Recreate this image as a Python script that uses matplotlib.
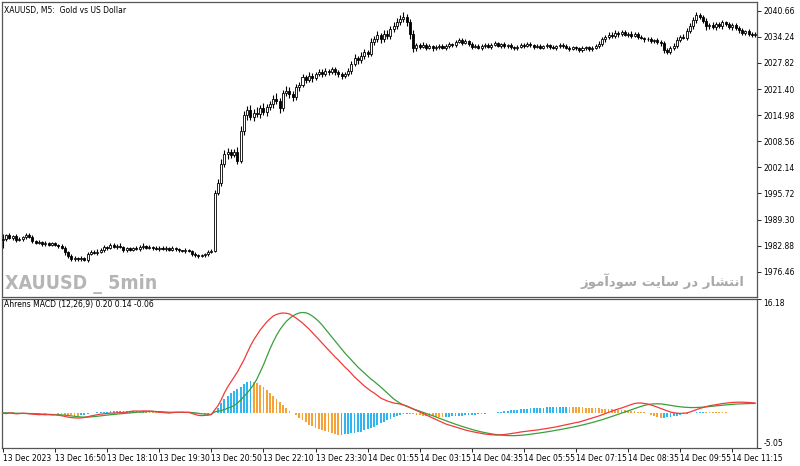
import numpy as np
import matplotlib
matplotlib.use("Agg")
import matplotlib.pyplot as plt
from matplotlib import font_manager as fm

# XAUUSD M5 closes, 13 Dec 15:30 -> 14 Dec 11:45
close = [
    1984.6, 1985.4, 1984.8, 1985.3, 1984.2, 1984.6, 1984.9, 1985.4, 1985.1, 1984.0,
    1983.6, 1983.8, 1983.3, 1983.5, 1983.1, 1983.4, 1983.0, 1982.7, 1982.4, 1981.2,
    1980.4, 1979.6, 1979.9, 1979.5, 1979.8, 1979.4, 1980.9, 1981.3, 1981.0, 1981.4,
    1981.8, 1982.6, 1982.3, 1983.0, 1982.6, 1982.9, 1982.5, 1981.8, 1982.2, 1981.9,
    1982.3, 1982.1, 1982.5, 1982.8, 1982.4, 1982.6, 1982.2, 1982.0, 1982.4, 1982.1,
    1982.3, 1981.9, 1982.2, 1982.0, 1981.7, 1981.5, 1981.8, 1981.6, 1980.9, 1980.6,
    1980.3, 1980.5, 1980.8, 1981.3, 1981.6, 1995.9, 1998.4, 2003.0, 2005.4, 2005.8,
    2005.2, 2006.0, 2003.8, 2011.0, 2015.0, 2016.2, 2014.5, 2015.6, 2015.2, 2016.8,
    2015.8, 2016.9, 2017.6, 2018.9, 2018.4, 2016.8, 2020.3, 2021.0, 2020.2, 2019.4,
    2021.8, 2022.5, 2024.3, 2023.6, 2024.6, 2024.0, 2025.2, 2025.6, 2025.0, 2025.9,
    2025.5, 2026.2, 2025.6, 2025.0, 2024.6, 2025.2, 2025.8, 2027.6, 2029.0, 2028.5,
    2029.6, 2030.5, 2030.0, 2033.0, 2033.8, 2034.6, 2033.6, 2035.0, 2034.5, 2036.2,
    2037.0, 2037.8, 2038.6, 2039.2, 2037.8, 2035.0, 2031.5, 2032.2, 2031.8, 2032.3,
    2031.6, 2031.9, 2031.4, 2031.7, 2032.0, 2031.6, 2031.9, 2032.4, 2032.2, 2033.0,
    2033.4, 2032.8, 2033.2, 2032.5, 2031.8, 2032.1, 2031.6, 2031.9, 2032.3, 2031.8,
    2032.2, 2032.6, 2032.1, 2032.4, 2031.9, 2032.2, 2031.7, 2031.4, 2031.8, 2032.3,
    2032.0, 2032.5, 2032.2, 2031.8, 2032.1, 2031.6, 2031.9, 2032.2, 2031.8, 2031.5,
    2031.9, 2032.3, 2031.9, 2031.6, 2031.3, 2031.7, 2031.4, 2031.0, 2031.4, 2031.7,
    2031.2, 2031.5, 2031.9, 2032.5, 2033.6, 2034.2, 2034.8, 2034.4, 2035.2, 2034.9,
    2035.4, 2034.8, 2035.0, 2034.5, 2034.9, 2034.3, 2034.0, 2033.6, 2033.8, 2033.2,
    2033.5, 2033.0, 2032.6, 2031.0, 2030.6, 2031.4, 2032.0, 2033.4, 2034.2, 2034.0,
    2035.6, 2036.8, 2038.4, 2039.6, 2039.0, 2038.2, 2036.8, 2037.2, 2036.6, 2037.4,
    2036.8, 2037.8, 2037.4, 2036.6, 2037.2, 2036.4, 2035.8, 2035.2, 2035.6, 2035.0,
    2034.6, 2035.0,
]
first_open = 1984.2

wick_hi = [
    1.2, 0.4, 0.6, 0.3, 0.5, 0.4, 0.3, 0.5, 0.6, 0.4, 0.3, 0.5, 0.3, 0.4, 0.2, 0.3, 0.4, 0.3, 0.5, 0.4,
    0.3, 0.5, 0.4, 0.3, 0.6, 0.4, 0.3, 0.5, 0.4, 0.6, 0.4, 0.5, 0.3, 0.6, 0.4, 0.3, 0.5, 0.4, 0.3, 0.4,
    0.3, 0.4, 0.5, 0.6, 0.3, 0.4, 0.3, 0.5, 0.4, 0.3, 0.4, 0.3, 0.5, 0.4, 0.3, 0.2, 0.4, 0.3, 0.3, 0.4,
    0.3, 0.4, 0.3, 0.5, 0.4, 0.6, 0.8, 1.2, 0.9, 1.0, 0.8, 0.7, 1.1, 1.3, 1.0, 0.9, 1.2, 0.8, 1.4, 0.7,
    1.2, 0.9, 0.8, 1.0, 1.4, 0.7, 0.9, 1.1, 0.8, 0.6, 0.9, 0.7, 0.8, 0.6, 0.9, 0.7, 0.5, 0.8, 0.6, 0.7,
    0.5, 0.6, 0.7, 0.5, 0.6, 0.4, 0.8, 0.7, 0.9, 0.6, 0.8, 0.7, 0.6, 0.9, 0.7, 1.0, 0.6, 0.8, 0.9, 0.7,
    0.8, 1.0, 0.9, 1.1, 0.7, 0.8, 0.9, 0.6, 0.5, 0.6, 0.4, 0.5, 0.4, 0.6, 0.5, 0.4, 0.5, 0.6, 0.4, 0.5,
    0.6, 0.5, 0.4, 0.3, 0.5, 0.4, 0.3, 0.5, 0.4, 0.3, 0.4, 0.5, 0.3, 0.4, 0.5, 0.3, 0.4, 0.3, 0.5, 0.4,
    0.3, 0.4, 0.5, 0.3, 0.4, 0.3, 0.4, 0.5, 0.3, 0.4, 0.3, 0.4, 0.3, 0.5, 0.4, 0.3, 0.4, 0.3, 0.5, 0.4,
    0.3, 0.4, 0.5, 0.6, 0.7, 0.5, 0.6, 0.5, 0.7, 0.5, 0.6, 0.4, 0.5, 0.6, 0.4, 0.5, 0.4, 0.3, 0.5, 0.4,
    0.3, 0.4, 0.5, 0.6, 0.4, 0.5, 0.6, 0.7, 0.5, 0.8, 0.7, 0.9, 0.8, 0.7, 0.6, 0.5, 0.6, 0.5, 0.7, 0.5,
    0.6, 0.5, 0.4, 0.6, 0.5, 0.4, 0.5, 0.6, 0.4, 0.5, 0.4, 0.3,
]
wick_lo = [
    1.8, 0.5, 0.4, 0.6, 0.4, 0.3, 0.5, 0.4, 0.3, 0.6, 0.4, 0.3, 0.5, 0.4, 0.3, 0.4, 0.3, 0.5, 0.4, 0.6,
    0.5, 0.4, 0.6, 0.5, 0.4, 0.3, 0.5, 0.4, 0.3, 0.4, 0.3, 0.4, 0.5, 0.3, 0.4, 0.5, 0.3, 0.4, 0.6, 0.3,
    0.4, 0.3, 0.5, 0.4, 0.3, 0.4, 0.5, 0.3, 0.4, 0.3, 0.5, 0.4, 0.3, 0.4, 0.5, 0.3, 0.4, 0.3, 0.5, 0.4,
    0.4, 0.3, 0.5, 0.4, 0.3, 0.4, 0.6, 0.9, 0.7, 1.1, 0.8, 0.6, 0.9, 0.7, 1.0, 1.2, 0.8, 0.9, 0.7, 1.0,
    0.8, 1.1, 0.7, 0.9, 0.6, 1.2, 0.8, 0.7, 1.0, 0.9, 0.6, 0.8, 0.5, 0.7, 0.6, 0.8, 0.5, 0.6, 0.7, 0.5,
    0.6, 0.5, 0.7, 0.6, 0.8, 0.5, 0.6, 0.7, 0.5, 0.9, 0.6, 0.7, 0.8, 0.6, 0.7, 0.9, 0.8, 0.6, 0.7, 0.8,
    0.7, 0.9, 0.6, 0.8, 1.0, 1.2, 0.9, 0.7, 0.5, 0.4, 0.5, 0.4, 0.6, 0.3, 0.5, 0.4, 0.5, 0.3, 0.4, 0.5,
    0.4, 0.5, 0.3, 0.4, 0.5, 0.3, 0.4, 0.5, 0.3, 0.4, 0.5, 0.3, 0.4, 0.5, 0.3, 0.4, 0.5, 0.4, 0.3, 0.4,
    0.5, 0.3, 0.4, 0.5, 0.3, 0.4, 0.3, 0.4, 0.5, 0.3, 0.4, 0.5, 0.4, 0.3, 0.5, 0.4, 0.3, 0.4, 0.5, 0.4,
    0.4, 0.5, 0.3, 0.4, 0.5, 0.6, 0.4, 0.5, 0.4, 0.6, 0.5, 0.4, 0.6, 0.5, 0.4, 0.5, 0.4, 0.6, 0.4, 0.5,
    0.4, 0.5, 0.6, 0.8, 0.7, 0.6, 0.5, 0.6, 0.5, 0.4, 0.6, 0.5, 0.6, 0.7, 0.5, 0.6, 0.8, 0.6, 0.5, 0.6,
    0.5, 0.6, 0.5, 0.4, 0.6, 0.5, 0.6, 0.4, 0.5, 0.6, 0.4, 0.5,
]

# Ahrens MACD (12,26,9): main line (red), signal (green), histogram
macd = [
    -0.10, -0.15, -0.05, -0.10, -0.18, -0.15, -0.10, -0.12, -0.18, -0.22,
    -0.25, -0.30, -0.28, -0.32, -0.30, -0.35, -0.33, -0.38, -0.45, -0.55,
    -0.65, -0.72, -0.76, -0.78, -0.76, -0.70, -0.60, -0.48, -0.40, -0.30,
    -0.22, -0.18, -0.14, -0.08, -0.08, -0.04, 0.00, 0.02, 0.06, 0.14,
    0.22, 0.22, 0.20, 0.24, 0.22, 0.22, 0.18, 0.12, 0.04, 0.02,
    -0.04, -0.08, -0.02, 0.04, 0.04, 0.06, 0.02, 0.02, -0.12, -0.26,
    -0.40, -0.44, -0.40, -0.38, -0.28, 0.37, 0.94, 1.79, 2.79, 3.64,
    4.36, 5.07, 5.78, 6.63, 7.49, 8.49, 9.49, 10.34, 11.05, 11.76,
    12.33, 12.91, 13.34, 13.76, 13.98, 14.12, 14.19, 14.15, 14.05, 13.76,
    13.48, 13.12, 12.76, 12.33, 11.91, 11.41, 10.91, 10.41, 9.92, 9.42,
    8.92, 8.42, 7.92, 7.49, 6.99, 6.49, 6.06, 5.56, 5.07, 4.64,
    4.21, 3.78, 3.43, 3.07, 2.79, 2.43, 2.07, 1.86, 1.65, 1.51,
    1.36, 1.29, 1.22, 1.08, 0.94, 0.72, 0.51, 0.29, 0.08, -0.13,
    -0.35, -0.56, -0.78, -0.99, -1.20, -1.42, -1.63, -1.77, -1.92, -2.06,
    -2.20, -2.34, -2.49, -2.60, -2.70, -2.80, -2.88, -2.97, -3.06, -3.11,
    -3.17, -3.20, -3.20, -3.17, -3.13, -3.07, -3.00, -2.93, -2.86, -2.77,
    -2.71, -2.66, -2.60, -2.54, -2.49, -2.41, -2.34, -2.27, -2.20, -2.12,
    -2.03, -1.93, -1.83, -1.73, -1.63, -1.53, -1.43, -1.35, -1.20, -1.06,
    -0.92, -0.78, -0.63, -0.49, -0.32, -0.15, 0.02, 0.19, 0.37, 0.51,
    0.65, 0.82, 0.99, 1.15, 1.29, 1.36, 1.36, 1.29, 1.22, 1.08,
    0.94, 0.76, 0.59, 0.42, 0.25, 0.08, -0.03, -0.09, -0.12, -0.09,
    -0.06, 0.08, 0.25, 0.42, 0.58, 0.72, 0.85, 0.97, 1.05, 1.14,
    1.22, 1.28, 1.34, 1.39, 1.44, 1.46, 1.48, 1.48, 1.46, 1.44,
    1.41, 1.36,
]
signal = [
    -0.05, -0.06, -0.07, -0.07, -0.09, -0.10, -0.10, -0.11, -0.12, -0.14,
    -0.16, -0.19, -0.21, -0.23, -0.25, -0.27, -0.28, -0.30, -0.33, -0.37,
    -0.42, -0.48, -0.54, -0.59, -0.63, -0.65, -0.65, -0.62, -0.58, -0.53,
    -0.47, -0.41, -0.36, -0.31, -0.26, -0.22, -0.18, -0.14, -0.10, -0.06,
    -0.01, 0.04, 0.07, 0.10, 0.13, 0.15, 0.16, 0.15, 0.13, 0.11,
    0.08, 0.05, 0.04, 0.04, 0.04, 0.04, 0.04, 0.04, 0.01, -0.04,
    -0.11, -0.18, -0.22, -0.25, -0.26, 0.11, 0.18, 0.29, 0.43, 0.61,
    0.79, 1.00, 1.36, 1.79, 2.29, 2.79, 3.36, 4.00, 4.78, 5.78,
    6.78, 7.92, 9.06, 10.06, 10.98, 11.76, 12.41, 12.98, 13.40, 13.76,
    14.02, 14.19, 14.26, 14.22, 14.05, 13.76, 13.40, 12.98, 12.48, 11.91,
    11.34, 10.77, 10.20, 9.63, 9.06, 8.49, 7.99, 7.49, 6.99, 6.49,
    6.06, 5.64, 5.21, 4.78, 4.43, 4.05, 3.65, 3.22, 2.78, 2.35,
    1.95, 1.62, 1.32, 1.08, 0.88, 0.70, 0.52, 0.36, 0.20, 0.04,
    -0.12, -0.28, -0.45, -0.62, -0.80, -0.98, -1.16, -1.33, -1.50, -1.66,
    -1.82, -1.97, -2.12, -2.26, -2.40, -2.53, -2.65, -2.76, -2.86, -2.95,
    -3.03, -3.10, -3.16, -3.21, -3.25, -3.28, -3.29, -3.29, -3.27, -3.24,
    -3.20, -3.15, -3.09, -3.03, -2.97, -2.90, -2.83, -2.76, -2.68, -2.60,
    -2.52, -2.44, -2.35, -2.26, -2.17, -2.08, -1.98, -1.88, -1.77, -1.66,
    -1.54, -1.42, -1.29, -1.16, -1.02, -0.87, -0.72, -0.56, -0.40, -0.24,
    -0.08, 0.08, 0.24, 0.40, 0.56, 0.72, 0.88, 1.02, 1.13, 1.20,
    1.24, 1.25, 1.23, 1.18, 1.11, 1.03, 0.95, 0.88, 0.82, 0.77,
    0.74, 0.72, 0.71, 0.72, 0.74, 0.77, 0.81, 0.85, 0.90, 0.95,
    1.00, 1.05, 1.09, 1.13, 1.17, 1.20, 1.23, 1.25, 1.27, 1.28,
    1.29, 1.30,
]
hist = [
    0.05, 0.10, 0.06, 0.02, -0.04, -0.06, -0.02, -0.04, -0.08, -0.10,
    -0.12, -0.14, -0.12, -0.14, -0.10, -0.12, -0.10, -0.14, -0.22, -0.30,
    -0.36, -0.40, -0.42, -0.44, -0.38, -0.30, -0.20, -0.12, -0.06, 0.02,
    0.08, 0.12, 0.14, 0.17, 0.18, 0.20, 0.21, 0.22, 0.22, 0.23,
    0.24, 0.22, 0.20, 0.21, 0.18, 0.17, 0.14, 0.10, 0.06, 0.04,
    0.02, 0.00, 0.03, 0.05, 0.06, 0.08, 0.06, 0.04, -0.06, -0.16,
    -0.24, -0.26, -0.20, -0.14, -0.08, 0.10, 0.60, 1.40, 2.00, 2.40,
    2.80, 3.10, 3.40, 3.70, 4.00, 4.30, 4.55, 4.40, 4.20, 3.90,
    3.60, 3.20, 2.80, 2.40, 2.00, 1.55, 1.10, 0.65, 0.25, -0.10,
    -0.35, -0.75, -1.05, -1.40, -1.75, -1.95, -2.15, -2.35, -2.50, -2.65,
    -2.80, -2.95, -3.05, -3.22, -3.18, -3.12, -3.04, -2.95, -2.86, -2.78,
    -2.70, -2.55, -2.38, -2.20, -2.00, -1.78, -1.55, -1.30, -1.06, -0.88,
    -0.70, -0.52, -0.38, -0.25, -0.15, -0.20, -0.26, -0.32, -0.38, -0.44,
    -0.48, -0.52, -0.55, -0.58, -0.60, -0.61, -0.60, -0.58, -0.55, -0.52,
    -0.48, -0.44, -0.40, -0.36, -0.32, -0.28, -0.24, -0.20, -0.15, -0.10,
    -0.05, 0.00, 0.06, 0.12, 0.18, 0.24, 0.30, 0.35, 0.40, 0.45,
    0.50, 0.54, 0.58, 0.62, 0.66, 0.69, 0.72, 0.75, 0.77, 0.79,
    0.81, 0.82, 0.83, 0.84, 0.83, 0.81, 0.79, 0.77, 0.75, 0.72,
    0.69, 0.66, 0.63, 0.60, 0.57, 0.54, 0.51, 0.47, 0.43, 0.39,
    0.35, 0.31, 0.27, 0.23, 0.19, 0.14, 0.09, 0.03, -0.10, -0.28,
    -0.48, -0.65, -0.78, -0.75, -0.70, -0.62, -0.54, -0.45, -0.36, -0.27,
    -0.19, -0.12, -0.05, 0.01, 0.05, 0.08, 0.07, 0.06, 0.05, 0.04,
    0.03, 0.02, 0.01, 0.00, -0.01, -0.02, -0.03, -0.04, -0.05, -0.055,
    -0.058, -0.06,
]

price_ticks = [2040.66, 2034.24, 2027.82, 2021.40, 2014.98, 2008.56,
               2002.14, 1995.72, 1989.30, 1982.88, 1976.46]
macd_ticks = [16.18, -5.05]
time_labels = ["13 Dec 2023", "13 Dec 16:50", "13 Dec 18:10", "13 Dec 19:30",
               "13 Dec 20:50", "13 Dec 22:10", "13 Dec 23:30", "14 Dec 01:55",
               "14 Dec 03:15", "14 Dec 04:35", "14 Dec 05:55", "14 Dec 07:15",
               "14 Dec 08:35", "14 Dec 09:55", "14 Dec 11:15"]

title_main = "XAUUSD, M5:  Gold vs US Dollar"
title_macd = "Ahrens MACD (12,26,9) 0.20 0.14 -0.06"
mark_left = "XAUUSD _ 5min"
mark_right = "انتشار در سایت سودآموز"

# matplotlib has no arabic shaping -> map letters to presentation forms by hand
FORMS = {  # isolated, final, initial, medial
    'ا': (0xFE8D, 0xFE8E, None, None),
    'آ': (0xFE81, 0xFE82, None, None),
    'د': (0xFEA9, 0xFEAA, None, None),
    'ر': (0xFEAD, 0xFEAE, None, None),
    'ز': (0xFEAF, 0xFEB0, None, None),
    'و': (0xFEED, 0xFEEE, None, None),
    'ن': (0xFEE5, 0xFEE6, 0xFEE7, 0xFEE8),
    'ت': (0xFE95, 0xFE96, 0xFE97, 0xFE98),
    'ش': (0xFEB5, 0xFEB6, 0xFEB7, 0xFEB8),
    'س': (0xFEB1, 0xFEB2, 0xFEB3, 0xFEB4),
    'م': (0xFEE1, 0xFEE2, 0xFEE3, 0xFEE4),
    'ی': (0xFBFC, 0xFBFD, 0xFBFE, 0xFBFF),
}

def shape_rtl(s):
    out = []
    for k, ch in enumerate(s):
        if ch not in FORMS:
            out.append(ch)
            continue
        iso, fin, ini, med = FORMS[ch]
        prev = s[k - 1] if k > 0 else ''
        nxt = s[k + 1] if k + 1 < len(s) else ''
        pj = prev in FORMS and FORMS[prev][2] is not None
        nj = nxt in FORMS and ini is not None
        if pj and nj:
            cp = med
        elif pj:
            cp = fin
        elif nj:
            cp = ini
        else:
            cp = iso
        out.append(chr(cp))
    return ''.join(reversed(out))


# narrow bold face for the watermark, if one is installed
narrow = None
for f in fm.fontManager.ttflist:
    if 'Narrow' in f.name or 'Condensed' in f.name or f.stretch == 'condensed':
        narrow = (f.name, f.stretch)
        break

N = len(close)
x = np.arange(N)
c = np.array(close)
o = np.array([first_open] + close[:-1])
hi = np.maximum(o, c) + np.array(wick_hi)
lo = np.minimum(o, c) - np.array(wick_lo)
up = c >= o

W, H = 800, 466
fig = plt.figure(figsize=(W / 100, H / 100), dpi=100)
ax1 = fig.add_axes([2 / W, 1 - 297 / H, 755 / W, 295 / H])
ax2 = fig.add_axes([2 / W, 1 - 448 / H, 755 / W, 149 / H])

# candles
ax1.vlines(x, lo, hi, color='black', lw=0.8, zorder=2)
body_bot = np.minimum(o, c)
body_h = np.maximum(np.abs(c - o), 0.1)
ax1.bar(x[up], body_h[up], bottom=body_bot[up], width=0.62, color='white',
        edgecolor='black', linewidth=0.6, zorder=3)
ax1.bar(x[~up], body_h[~up], bottom=body_bot[~up], width=0.62, color='black',
        edgecolor='black', linewidth=0.6, zorder=3)

# macd panel
hv = np.array(hist)
rising = np.concatenate([[True], hv[1:] >= hv[:-1]])
cols = np.where(rising, '#2fb5ef', '#f5a236')
ax2.bar(x, hv, width=0.55, color=cols, linewidth=0, zorder=2)
ax2.plot(x, signal, color='#3a9f3a', lw=0.9, zorder=3)
ax2.plot(x, macd, color='#f23a3a', lw=0.9, zorder=4)

xl = (-0.3, 231.6)
for ax in (ax1, ax2):
    ax.set_xlim(*xl)
    for s in ax.spines.values():
        s.set_color('#555555')
        s.set_linewidth(0.9)
    ax.yaxis.tick_right()
    ax.tick_params(axis='y', direction='out', length=3, width=0.6, pad=1.5,
                   labelsize=5.5, colors='black')

ax1.set_ylim(1970.24, 2042.80)
ax1.set_yticks(price_ticks)
ax1.set_yticklabels([f"{v:.2f}" for v in price_ticks])
ax1.set_xticks([])

ax2.set_ylim(-5.05, 16.18)
ax2.set_yticks(macd_ticks)
ax2.set_yticklabels([f"{v:.2f}" for v in macd_ticks])
lbls = ax2.get_yticklabels()
lbls[0].set_va('top')
lbls[1].set_va('bottom')
ax2.set_xticks(np.arange(0, N, 16))
ax2.set_xticklabels(time_labels, ha='left')
ax2.tick_params(axis='x', direction='out', length=3, width=0.6, pad=1,
                labelsize=5.5, colors='black')

fig.text(4 / W, 1 - 10 / H, title_main, fontsize=5.5, va='center', ha='left')
fig.text(4 / W, 1 - 305 / H, title_macd, fontsize=5.5, va='center', ha='left')

if narrow is not None:
    wm = dict(family=[narrow[0], 'DejaVu Sans'], fontstretch=narrow[1], fontsize=14)
else:
    wm = dict(family=['Liberation Sans', 'DejaVu Sans'], fontsize=13)
fig.text(5 / W, 1 - 289 / H, mark_left, fontweight='bold', color='#b5b5b5',
         va='baseline', ha='left', **wm)
fig.text(744 / W, 1 - 286 / H, shape_rtl(mark_right), fontsize=9.5, fontweight='bold',
         family=['DejaVu Sans'], color='#a9a9a9', va='baseline', ha='right')

fig.savefig('out.png', dpi=100)
